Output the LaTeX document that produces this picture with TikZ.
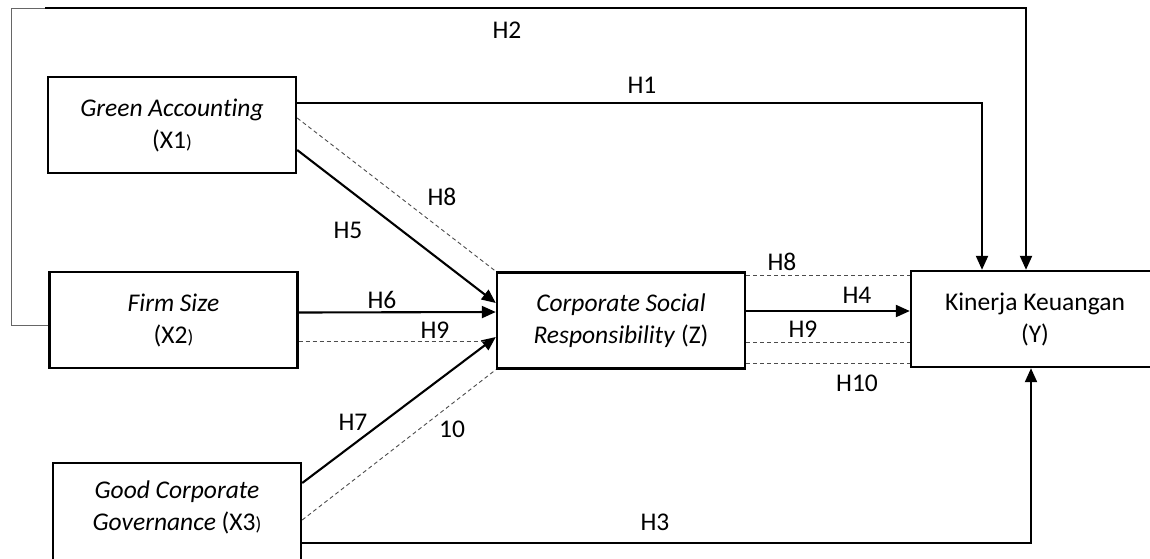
\documentclass[tikz,border=0pt]{standalone}
\usepackage{fontspec}
\setmainfont{Carlito}[Ligatures=NoCommon]
\usetikzlibrary{arrows.meta,calc}
\newcommand{\smp}{{\fontsize{19}{19}\selectfont )}}
\begin{document}
\begin{tikzpicture}[x=1pt,y=-1pt,
  box/.style={draw, line width=2.4pt, minimum width=248pt, minimum height=96pt,
    align=center, inner sep=0pt, font=\fontsize{25.5}{32}\selectfont},
  arr/.style={line width=2.1pt, -{Triangle[length=14pt,width=12pt]}},
  dline/.style={draw=black!70, line width=0.9pt, dash pattern=on 4pt off 3pt},
  thinline/.style={draw=black!60, line width=1pt},
  lbl/.style={font=\fontsize{25.5}{28}\selectfont, inner sep=0pt}
]
\useasboundingbox (0,0) rectangle (1150,558);
\clip (0,0) rectangle (1150,558);

% boxes
\node[box] (ga) at (172,125) {\textit{Green Accounting}\\(X1\smp};
\node[box] (fs) at (173.5,320) {\textit{Firm Size}\\(X2\smp};
\node[box, minimum height=120pt] (gcg) at (177,523) {};
\node[inner sep=0pt, align=center, font=\fontsize{25.5}{32}\selectfont] (gcgt) at (177,507)
  {\textit{Good Corporate}\\\textit{Governance} (X3\smp};
\node[box] (csr) at (621,320.5) {\textit{Corporate Social}\\\textit{Responsibility} (Z)};
\node[box] (y) at (1035,319) {Kinerja Keuangan\\(Y)};

% coordinates
\coordinate (h1c) at (982,103);
\coordinate (h2a) at (11,325);
\coordinate (h2b) at (11,8);
\coordinate (h2c) at (45,8);
\coordinate (h2d) at (1026,8);
\coordinate (h3c) at (1031,543);
\coordinate (h9e) at (485,341);

% H1
\draw[arr] ([yshift=22pt]ga.east) -- (h1c) -- (h1c |- y.north);
% H2
\draw[thinline] ([yshift=-5pt]fs.west) -- (h2a) -- (h2b) -- (h2c);
\draw[arr] (h2c) -- (h2d) -- (h2d |- y.north);
% H3
\draw[arr] ([yshift=-20pt]gcg.east) -- (h3c) -- (h3c |- y.south);
% H4
\draw[arr] ([yshift=9.5pt]csr.east) -- ([yshift=9.5pt]csr.east -| y.west);
% H5
\draw[arr] ([yshift=-25pt]ga.east) -- ([yshift=17.5pt]csr.west);
% H6
\draw[arr] ([yshift=7.5pt]fs.east) -- ([yshift=8.5pt]csr.west);
% H7
\draw[arr] ([yshift=40pt]gcg.east) -- ([yshift=-16.5pt]csr.west);
% dashed left
\draw[dline] ([yshift=7pt]ga.east) -- (csr.north west);
\draw[dline] ([yshift=-21pt]fs.east) -- (h9e);
\draw[dline] ([yshift=3pt]gcg.east) -- (csr.south west);
% dashed right
\draw[dline] ([yshift=45.5pt]csr.east) -- ([yshift=45.5pt]csr.east -| y.west);
\draw[dline] ([yshift=-21.5pt]csr.east) -- ([yshift=-21.5pt]csr.east -| y.west);
\draw[dline] ([yshift=-42.5pt]csr.east) -- ([yshift=-42.5pt]csr.east -| y.west);

% labels
\node[lbl] (l2) at (507,30) {H2};
\node[lbl] (l1) at (642,85) {H1};
\node[lbl] (l8a) at (442,197) {H8};
\node[lbl] (l5) at (348,230) {H5};
\node[lbl] (l6) at (382,300) {H6};
\node[lbl] (l9a) at (435,330) {H9};
\node[lbl] (l7) at (353,422) {H7};
\node[lbl] (l10a) at (452,429) {10};
\node[lbl] (l8b) at (782,262) {H8};
\node[lbl] (l4) at (857,295) {H4};
\node[lbl] (l9b) at (803,329) {H9};
\node[lbl] (l10b) at (857,383) {H10};
\node[lbl] (l3) at (655,522) {H3};
\end{tikzpicture}
\end{document}
